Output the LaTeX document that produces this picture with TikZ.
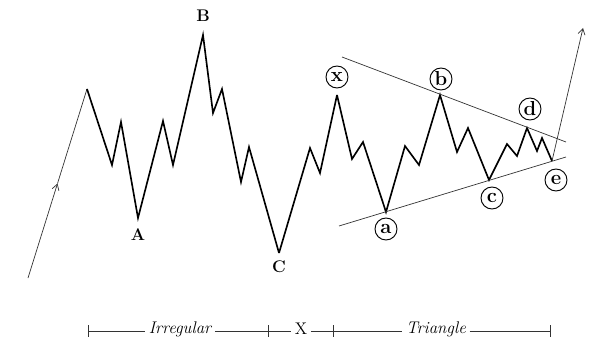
\documentclass[tikz,border=0pt]{standalone}
\usepackage{tikz}
\usetikzlibrary{calc, arrows.meta}

\begin{document}
\begin{tikzpicture}[
    x=0.03cm, y=-0.03cm,
    wave/.style={line width=1.4pt, line join=miter},
    guide/.style={line width=0.6pt, draw=black!80},
    peak/.style={font=\bfseries\Large, inner sep=1pt},
    ring/.style={draw, circle, line width=0.8pt, minimum size=0.66cm,
                 inner sep=0pt, font=\bfseries\LARGE},
    span/.style={font=\itshape\Large, inner sep=3pt},
    >={Straight Barb[length=5pt, width=6pt]}
  ]
  \useasboundingbox (0,0) rectangle (593,344);

  % Wave points
  \coordinate (start) at (28,278);
  \coordinate (top) at (87,89);
  \coordinate (A) at (138,218);
  \coordinate (B) at (203,35);
  \coordinate (C) at (279,253);
  \coordinate (X) at (337,95);
  \coordinate (a) at (386,212);
  \coordinate (b) at (440,95);
  \coordinate (c) at (489,180);
  \coordinate (d) at (527,128);
  \coordinate (e) at (552,161);
  \coordinate (goal) at (583,28);

  % Lead-in
  \draw[guide, ->] (start) -- ($(start)!0.5!(top)$);
  \draw[guide] ($(start)!0.5!(top)$) -- (top);

  % Irregular flat
  \draw[wave] (top) -- (112,165) -- (121,122) -- (A)
    -- (163,121) -- (173,165) -- (B)
    -- (213,113) -- (222,89) -- (241,182) -- (249,147) -- (C);

  % X wave
  \draw[wave] (C) -- (310,148) -- (320,173) -- (X);

  % Triangle
  \draw[wave] (X) -- (352,159) -- (363,142) -- (a)
    -- (405,146) -- (419,165) -- (b)
    -- (457,152) -- (468,128) -- (c)
    -- (507,144) -- (517,156) -- (d)
    -- (537,151) -- (542,138) -- (e);

  % Thrust
  \draw[guide, ->] (e) -- (goal);

  % Trend lines
  \coordinate (u1) at (342,57);
  \coordinate (u2) at (566,142);
  \coordinate (l1) at (339,226);
  \coordinate (l2) at (566,157);
  \draw[guide] (u1) -- (u2);
  \draw[guide] (l1) -- (l2);

  % Labels
  \node[peak] (lA) at (138,235) {A};
  \node[peak] (lB) at (203,16) {B};
  \node[peak] (lC) at (279,267) {C};
  \node[ring] (lx) at (337,77) {x};
  \node[ring] (la) at (386,229) {a};
  \node[ring] (lb) at (441,79) {b};
  \node[ring] (lc) at (492,198) {c};
  \node[ring] (ld) at (530,109) {d};
  \node[ring] (le) at (556,180) {e};

  % Scale
  \coordinate (t1) at (88,331);
  \coordinate (t2) at (268,331);
  \coordinate (t3) at (333,331);
  \coordinate (t4) at (550,331);
  \foreach \t in {t1,t2,t3,t4}
    \draw[guide] ($(\t)+(0,-6)$) -- ($(\t)+(0,6)$);
  \node[span] (irr) at (180,329) {Irregular};
  \node[span, font=\Large] (mid) at (301,329) {X};
  \node[span] (tri) at (436,329) {Triangle};
  \draw[guide] (t1) -- (irr.west |- t1);
  \draw[guide] (irr.east |- t1) -- (t2);
  \draw[guide] (t2) -- (mid.west |- t2);
  \draw[guide] (mid.east |- t3) -- (t3);
  \draw[guide] (t3) -- (tri.west |- t3);
  \draw[guide] (tri.east |- t4) -- (t4);
\end{tikzpicture}
\end{document}
